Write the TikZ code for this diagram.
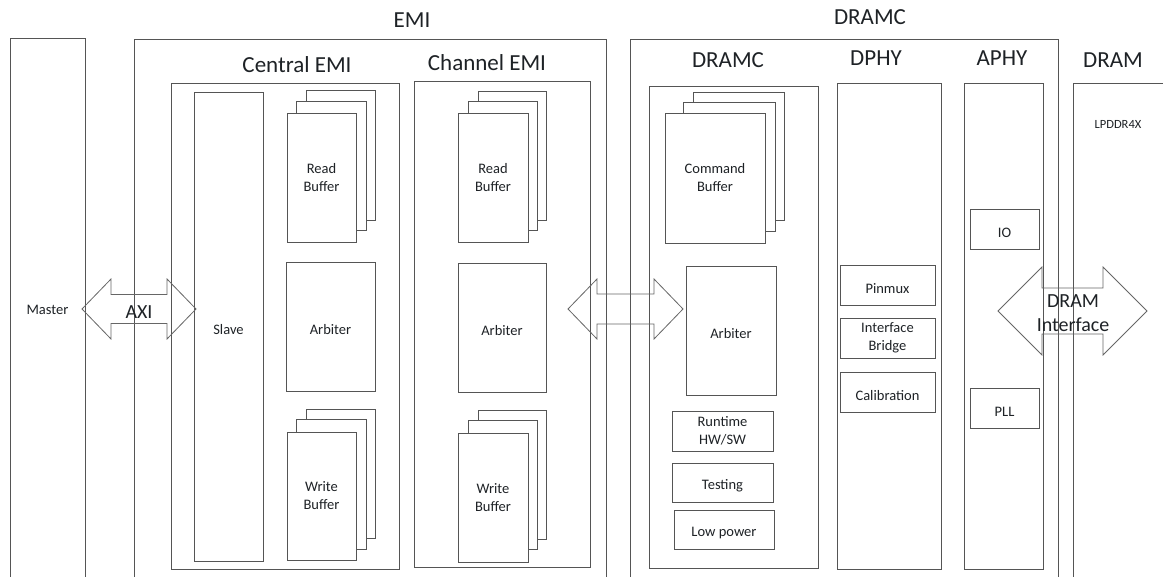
\documentclass[tikz,border=0pt]{standalone}
\usepackage{fontspec}
\setmainfont{Carlito}
\definecolor{edge}{HTML}{555555}
\definecolor{arrowedge}{HTML}{666666}
\definecolor{ink}{HTML}{1E2226}
\newcommand\lblfont{\fontsize{14.5}{18}\selectfont}
\newcommand\ttlsize{\fontsize{23}{26}\selectfont}
\newcommand\busfont{\fontsize{20}{24}\selectfont}
\tikzset{
  plainbox/.style={draw=edge, line width=0.9pt, fill=white, inner sep=0pt,
              align=center, font=\lblfont, text=ink},
  box/.style={plainbox, execute at begin node={\rule{0pt}{16.5pt}}},
  ttl/.style={font=\ttlsize, text=ink, inner sep=0pt, anchor=base},
  bus/.style={draw=arrowedge, line width=0.8pt, line join=miter},
  buslbl/.style={font=\busfont, text=ink, inner sep=0pt, align=center},
}
% \bx[style]{name}{x1}{y1}{x2}{y2}{text}: rectangle block given by its corners
\newcommand\bx[7][box]{%
  \node[#1, minimum width={(#5-#3)*1pt}, minimum height={(#6-#4)*1pt}]
    (#2) at ({(#3+#5)/2},{(#4+#6)/2}) {#7};}
% \dbl{x1}{x2}{yc}{head length}{shaft half}{head half}: hollow double block arrow
\newcommand\dbl[6]{%
  \draw[bus] (#1,#3) -- ({#1+#4},{#3-#6}) -- ({#1+#4},{#3-#5})
    -- ({#2-#4},{#3-#5}) -- ({#2-#4},{#3-#6}) -- (#2,#3)
    -- ({#2-#4},{#3+#6}) -- ({#2-#4},{#3+#5}) -- ({#1+#4},{#3+#5})
    -- ({#1+#4},{#3+#6}) -- cycle;}
\begin{document}
\begin{tikzpicture}[x=1pt, y=-1pt]
\useasboundingbox (0,0) rectangle (1163,577);
\clip (0,0) rectangle (1163,577);

% top-level blocks
\bx[plainbox]{master}{10}{38}{85}{582}{Master}
\bx{emi}{134}{39}{606}{590}{}
\bx{dramcouter}{630}{39}{1058}{590}{}
\bx{dram}{1073}{83}{1180}{590}{}

\node[ttl] (emittl) at (412,28) {EMI};
\node[ttl] (dramcttl) at (870,25) {DRAMC};
\node[ttl] (dramttl) at (1113,68) {DRAM};
\node[font=\fontsize{12.5}{14}\selectfont, text=ink, inner sep=0pt] (lpddr) at (1118,124) {LPDDR4X};

% Central EMI
\bx{cemi}{171}{83}{399}{569}{}
\node[ttl] (cemittl) at (297,73) {Central EMI};
\bx{slave}{194}{92}{263}{561}{Slave}
\bx{crb3}{306}{90}{375}{220}{}
\bx{crb2}{296}{101}{366}{230}{}
\bx{crb1}{287}{113}{356}{242}{Read\\Buffer}
\bx{carb}{286}{262}{375}{391}{Arbiter}
\bx{cwb3}{306}{409}{375}{538}{}
\bx{cwb2}{296}{419}{366}{549}{}
\bx{cwb1}{287}{432}{356}{560}{Write\\Buffer}

% Channel EMI
\bx{chemi}{414}{81}{590}{567}{}
\node[ttl] (chemittl) at (487,71) {Channel EMI};
\bx{hrb3}{478}{91}{546}{220}{}
\bx{hrb2}{468}{101}{537}{230}{}
\bx{hrb1}{458}{113}{528}{242}{Read\\Buffer}
\bx{harb}{458}{263}{546}{392}{Arbiter}
\bx{hwb3}{478}{410}{546}{539}{}
\bx{hwb2}{468}{420}{537}{549}{}
\bx{hwb1}{458}{433}{528}{562}{Write\\Buffer}

% DRAMC core
\bx{dramc}{649}{86}{818}{568}{}
\node[ttl] (dramcinttl) at (728,68) {DRAMC};
\bx{cmd3}{693}{92}{784}{220}{}
\bx{cmd2}{683}{102}{775}{231}{}
\bx{cmd1}{665}{113}{765}{243}{Command\\Buffer}
\bx{darb}{686}{266}{776}{395}{Arbiter}
\bx{runtime}{672}{411}{773}{451}{Runtime\\HW/SW}
\bx{testing}{672}{463}{773}{502}{Testing}
\bx{lowpower}{674}{510}{774}{549}{Low power}

% DPHY
\bx{dphy}{837}{83}{941}{569}{}
\node[ttl] (dphyttl) at (876,66) {DPHY};
\bx{pinmux}{840}{265}{935}{305}{Pinmux}
\bx{bridge}{840}{318}{935}{358}{Interface\\Bridge}
\bx{calib}{840}{372}{935}{412}{Calibration}

% APHY
\bx{aphy}{964}{83}{1043}{569}{}
\node[ttl] (aphyttl) at (1002,66) {APHY};
\bx{io}{970}{209}{1039}{249}{IO}
\bx{pll}{970}{388}{1039}{428}{PLL}

% buses
\dbl{82}{196}{309}{29}{14.5}{30}
\node[buslbl] (axi) at (139,312) {AXI};
\dbl{568}{683}{309}{29}{15}{30}
\dbl{998}{1147}{311}{44}{23}{44}
\node[buslbl] (dramif) at (1073,313) {DRAM\\Interface};
\end{tikzpicture}
\end{document}
